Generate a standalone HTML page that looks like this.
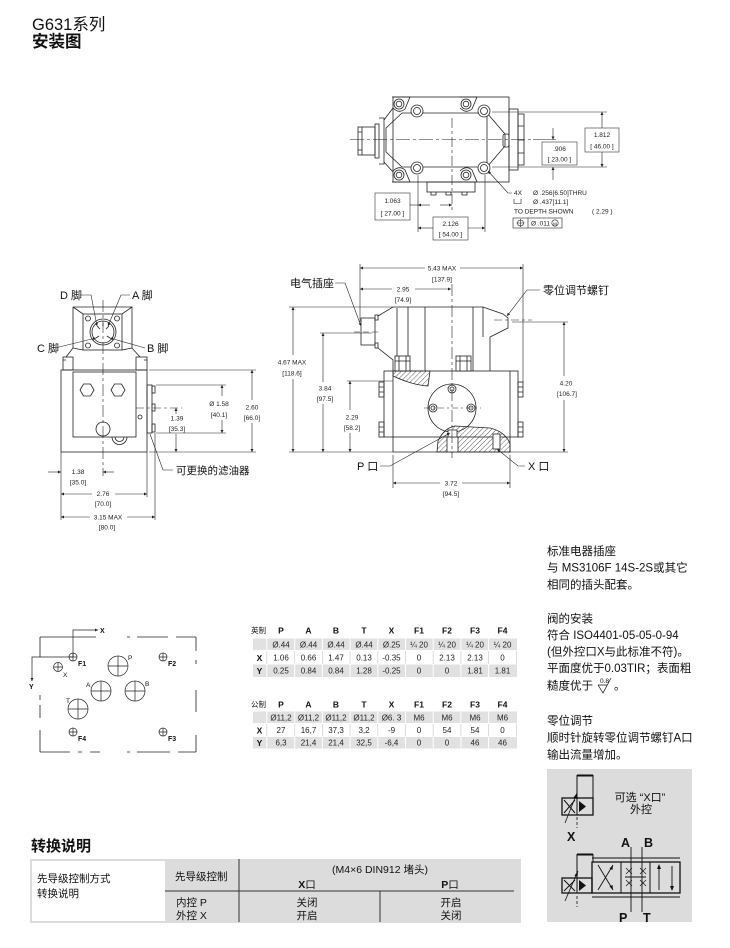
<!DOCTYPE html>
<html><head><meta charset="utf-8">
<style>html,body{margin:0;padding:0;background:#fff;}svg{display:block}</style>
</head><body>
<svg width="730" height="948" viewBox="0 0 730 948" xmlns="http://www.w3.org/2000/svg" font-family="'Liberation Sans','Noto Sans CJK SC',sans-serif">
<defs>
<marker id="ar" viewBox="0 0 10 10" refX="10" refY="5" markerUnits="userSpaceOnUse" markerWidth="6" markerHeight="3" orient="auto-start-reverse"><path d="M0,0 L10,5 L0,10z" fill="#222"/></marker>
<pattern id="h" width="3.5" height="3.5" patternUnits="userSpaceOnUse" patternTransform="rotate(45)"><line x1="0" y1="0" x2="0" y2="3.5" stroke="#333" stroke-width="0.8"/></pattern>
</defs>

<!-- Header -->
<text x="32" y="30" font-size="16.5" fill="#111">G631系列</text>
<text x="32" y="47" font-size="16.5" font-weight="bold" fill="#111">安装图</text>

<!-- ============ TOP VIEW ============ -->
<g stroke="#222" stroke-width="0.8" fill="none">
 <rect x="393" y="97" width="116" height="85"/>
 <rect x="509" y="109" width="9" height="61"/>
 <rect x="518" y="114" width="6" height="51"/>
 <path d="M518,126 H524 M518,140 H524 M518,153 H524"/>
 <rect x="358" y="127" width="17" height="28"/>
 <path d="M362,127 V155 M358,132 H362 M358,150 H362"/>
 <rect x="375" y="124" width="4" height="34"/>
 <path d="M379,118 H384 V164 H379 M384,120 L393,108 M384,162 L393,172"/>
 <path d="M402,113 H487 L505,134 V146 L487,167 H402 L386,152 V128 Z"/>
 <path d="M487,113 V167"/>
 <rect x="503" y="134" width="6" height="13" rx="2"/>
 <path d="M392,97 L410,97 L405,109 Q399,114 393,108 M459,97 L477,97 L472,109 Q466,114 460,108"/>
 <path d="M392,182 L410,182 L405,170 Q399,165 393,171 M459,182 L477,182 L472,170 Q466,165 460,171"/>
 <circle cx="399" cy="104" r="5"/><circle cx="399" cy="104" r="2.8"/>
 <circle cx="466" cy="104" r="5"/><circle cx="466" cy="104" r="2.8"/>
 <circle cx="399" cy="175" r="5"/><circle cx="399" cy="175" r="2.8"/>
 <circle cx="466" cy="175" r="5"/><circle cx="466" cy="175" r="2.8"/>
 <circle cx="417" cy="111" r="6" fill="#fff"/><circle cx="417" cy="111" r="3.5"/>
 <circle cx="484" cy="111" r="6" fill="#fff"/><circle cx="484" cy="111" r="3.5"/>
 <circle cx="417" cy="168" r="6" fill="#fff"/><circle cx="417" cy="168" r="3.5"/>
 <circle cx="484" cy="168" r="6" fill="#fff"/><circle cx="484" cy="168" r="3.5"/>
 <rect x="427" y="182" width="48" height="10"/>
 <path d="M431,192 v3 h5 v-3 M446,192 v3 h5 v-3 M462,192 v3 h5 v-3"/>
</g>
<g stroke="#222" stroke-width="0.6" fill="none">
 <path d="M350,139.5 H533" stroke-dasharray="14 3 3 3"/>
 <path d="M452,118 V212" stroke-dasharray="10 3 3 3"/>
 <!-- right dims -->
 <path d="M492,112 H607 M492,167 H607"/>
 <path d="M602,128 V112" marker-end="url(#ar)"/>
 <path d="M602,152 V167" marker-end="url(#ar)"/>
 <path d="M553,128 V139.5" marker-end="url(#ar)"/>
 <path d="M553,180 V167" marker-end="url(#ar)"/>
 <path d="M533,139.5 H556"/>
 <rect x="585" y="128" width="34" height="24" stroke="#333"/>
 <rect x="542" y="142" width="35" height="23" stroke="#333"/>
 <!-- bottom dims -->
 <path d="M418,175 V232 M485,175 V232"/>
 <path d="M410,205 H418"/>
 <path d="M430,205 H418" marker-end="url(#ar)"/>
 <path d="M440,205 H452" marker-end="url(#ar)"/>
 <path d="M433,228 H418" marker-end="url(#ar)"/>
 <path d="M468,228 H485" marker-end="url(#ar)"/>
 <rect x="375" y="193" width="35" height="27" stroke="#333"/>
 <rect x="433" y="217" width="35" height="23" stroke="#333"/>
 <path d="M512,193 H508 L488,171" marker-end="url(#ar)"/>
 <path d="M514,199 V203.5 H521 V199"/>
 <rect x="513" y="218" width="49" height="10"/>
 <path d="M528,218 V228"/>
 <circle cx="520.5" cy="223" r="3"/><path d="M516.5,223 H524.5 M520.5,219 V227"/>
 <circle cx="555" cy="223" r="3.2"/>
</g>
<g font-size="6.5" fill="#222" text-anchor="middle">
 <text x="602" y="137">1.812</text><text x="602" y="148.5">[  46.00  ]</text>
 <text x="559.5" y="151">.906</text><text x="559.5" y="161.5">[  23.00  ]</text>
 <text x="392.5" y="203">1.063</text><text x="392.5" y="215.5">[  27.00  ]</text>
 <text x="450.5" y="226">2.126</text><text x="450.5" y="236.5">[  54.00  ]</text>
</g>
<g font-size="6.5" fill="#222">
 <text x="514" y="195">4X</text>
 <text x="533" y="195">Ø .256[6.50]THRU</text>
 <text x="533" y="204">Ø .437[11.1]</text>
 <text x="514" y="213.5">TO DEPTH SHOWN</text>
 <text x="592" y="213.5">(    2.29    )</text>
 <text x="531" y="225.5">Ø .011</text>
 <text x="555" y="225.3" font-size="4.5" text-anchor="middle">M</text>
</g>

<!-- ============ LEFT VIEW ============ -->
<g stroke="#222" stroke-width="0.8" fill="none">
 <rect x="61" y="370" width="86" height="82"/>
 <rect x="63" y="357" width="10" height="13"/>
 <rect x="136" y="357" width="11" height="13"/>
 <path d="M63,360 h3 M144,360 h3"/>
 <path d="M73,307 H132 V348 L140,357 M73,307 V348 L66,357"/>
 <rect x="83" y="314" width="39" height="36"/>
 <path d="M73,307 L83,314 M132,307 L122,314 M73,348 L83,350 M132,348 L122,350"/>
 <circle cx="103" cy="332" r="13"/><circle cx="103" cy="332" r="11"/>
 <path d="M97,326 l3,3 M109,326 l-3,3 M96,338 l3,-2 M110,338 l-3,-2 M103,323 v3"/>
 <circle cx="88" cy="318.5" r="2.5"/><circle cx="117" cy="318.5" r="2.5"/>
 <circle cx="88" cy="345.5" r="2.5"/><circle cx="117" cy="345.5" r="2.5"/>
 <rect x="73" y="372" width="63" height="65"/>
 <polygon points="80,390 83.5,384 90.5,384 94,390 90.5,396 83.5,396"/>
 <polygon points="111,390 114.5,384 121.5,384 125,390 121.5,396 114.5,396"/>
 <circle cx="103" cy="429" r="7" fill="#fff"/>
 <path d="M112,437 A6,6 0 0 0 127,437"/>
 <path d="M115,437 A4,4 0 0 0 124,437"/>
 <circle cx="140" cy="417" r="2"/>
 <rect x="147" y="385" width="5" height="48"/>
 <rect x="152" y="386" width="3" height="7"/>
 <rect x="152" y="404" width="3" height="7"/>
 <rect x="152" y="424" width="3" height="8"/>
</g>
<g stroke="#222" stroke-width="0.6" fill="none">
 <path d="M103,300 V476" stroke-dasharray="12 3 3 3"/>
 <path d="M136,408 H182" stroke-dasharray="8 3 3 3"/>
 <path d="M149,370 H256 M149,452 H256 M156,385 H226 M156,433 H226"/>
 <path d="M252,400 V370" marker-end="url(#ar)"/><path d="M252,423 V452" marker-end="url(#ar)"/>
 <path d="M222,396 V385" marker-end="url(#ar)"/><path d="M222,420 V433" marker-end="url(#ar)"/>
 <path d="M176,414 V408" marker-end="url(#ar)"/><path d="M176,434 V452" marker-end="url(#ar)"/>
 <path d="M61,452 V520 M147,452 V497 M155,433 V520"/>
 <path d="M48,472 H61" marker-end="url(#ar)"/><path d="M114,472 H103" marker-end="url(#ar)"/>
 <path d="M92,494 H61" marker-end="url(#ar)"/><path d="M115,494 H147" marker-end="url(#ar)"/>
 <path d="M90,517 H61" marker-end="url(#ar)"/><path d="M127,517 H155" marker-end="url(#ar)"/>
 <path d="M80,295 H91 L97,326" marker-end="url(#ar)"/>
 <path d="M130,295 H121 L108,326" marker-end="url(#ar)"/>
 <path d="M55,348 L96,338" marker-end="url(#ar)"/>
 <path d="M145,348 L110,338" marker-end="url(#ar)"/>
 <path d="M150,434 L163,470 H173"/>
</g>
<g font-size="6.5" fill="#222" text-anchor="middle">
 <text x="252" y="409.5">2.60</text><text x="252" y="420">[66.0]</text>
 <text x="219" y="406">Ø 1.58</text><text x="219" y="417">[40.1]</text>
 <text x="177" y="420.5">1.39</text><text x="177" y="431">[35.3]</text>
 <text x="78" y="474">1.38</text><text x="78" y="484.5">[35.0]</text>
 <text x="103" y="496">2.76</text><text x="103" y="506">[70.0]</text>
 <text x="108" y="519.5">3.15 MAX</text><text x="107" y="529.5">[80.0]</text>
</g>
<g font-size="11" fill="#111">
 <text x="60" y="299">D 脚</text>
 <text x="132" y="299">A 脚</text>
 <text x="37" y="352">C 脚</text>
 <text x="147" y="352">B 脚</text>
 <text x="176" y="474" font-size="10.5">可更换的滤油器</text>
</g>

<!-- ============ MIDDLE VIEW ============ -->
<g stroke="#222" stroke-width="0.8" fill="none">
 <rect x="384" y="371" width="134" height="66"/>
 <path d="M393,371 V452 H510 V371"/>
 <rect x="379" y="382" width="5" height="15"/><rect x="379" y="422" width="5" height="15"/>
 <rect x="518" y="382" width="5" height="15"/><rect x="518" y="422" width="5" height="15"/>
 <path d="M379,387 h5 M379,392 h5 M379,427 h5 M379,432 h5 M518,387 h5 M518,392 h5 M518,427 h5 M518,432 h5"/>
 <rect x="361" y="318" width="14" height="27"/>
 <rect x="375" y="315" width="3" height="5"/><rect x="375" y="343" width="3" height="5"/>
 <path d="M378,316 L393,307 H483 L503,314 L508,318 V328 L490,337 V371"/>
 <path d="M378,348 L393,360 V371"/>
 <path d="M397,308 V360 M408,307 V356 M425,307 V371 M473,307 V371 M483,307 V337"/>
 <rect x="395" y="356" width="15" height="15" fill="#fff"/>
 <rect x="456" y="356" width="15" height="15" fill="#fff"/>
 <path d="M399,356 V371 M406,356 V371 M395,361 H410 M460,356 V371 M467,356 V371 M456,361 H471"/>
 <path d="M393,371 H430 L428,386 Q412,385 393,376 Z" fill="url(#h)"/>
 <circle cx="452" cy="408" r="24"/>
 <circle cx="452" cy="389" r="4"/><circle cx="452" cy="389" r="2"/>
 <circle cx="433" cy="408" r="4"/><circle cx="433" cy="408" r="2"/>
 <circle cx="471" cy="408" r="4"/><circle cx="471" cy="408" r="2"/>
 <path d="M437,452 L438,441 Q444,428 455,426 L490,428 Q506,432 510,444 V452 Z" fill="url(#h)"/>
 <rect x="447" y="437" width="11" height="15" fill="#fff"/>
 <rect x="448" y="430" width="9" height="7" fill="#fff"/>
 <rect x="493" y="434" width="7" height="15" fill="#fff"/>
</g>
<g stroke="#222" stroke-width="0.6" fill="none">
 <path d="M452,284 V458" stroke-dasharray="12 3 3 3"/>
 <path d="M424,408 H481" stroke-dasharray="6 3 2 3"/>
 <path d="M354,332 H380" stroke-dasharray="6 3"/>
 <path d="M494,320 H532" stroke-dasharray="8 3 3 3"/>
 <path d="M360,264 V322 M523,264 V383"/>
 <path d="M425,268 H360" marker-end="url(#ar)"/><path d="M460,268 H523" marker-end="url(#ar)"/>
 <path d="M392,289 H360" marker-end="url(#ar)"/><path d="M415,289 H451" marker-end="url(#ar)"/>
 <path d="M289,307 H393 M289,452 H393"/>
 <path d="M293,355 V307" marker-end="url(#ar)"/><path d="M293,379 V452" marker-end="url(#ar)"/>
 <path d="M320,333 H372"/>
 <path d="M323,382 V333" marker-end="url(#ar)"/><path d="M323,404 V452" marker-end="url(#ar)"/>
 <path d="M347,381 H393"/>
 <path d="M350,410 V381" marker-end="url(#ar)"/><path d="M350,433 V452" marker-end="url(#ar)"/>
 <path d="M512,322 H568 M510,452 H568"/>
 <path d="M564,376 V322" marker-end="url(#ar)"/><path d="M564,400 V452" marker-end="url(#ar)"/>
 <path d="M393,455 V488 M510,455 V488"/>
 <path d="M440,483 H393" marker-end="url(#ar)"/><path d="M462,483 H510" marker-end="url(#ar)"/>
 <path d="M335,283 H345 L361,326" marker-end="url(#ar)"/>
 <path d="M540,290 H527 L507,316" marker-end="url(#ar)"/>
 <path d="M380,466 H390 L450,433" marker-end="url(#ar)"/>
 <path d="M525,466 H518 L497,449" marker-end="url(#ar)"/>
</g>
<g font-size="6.5" fill="#222" text-anchor="middle">
 <text x="442" y="270.5">5.43 MAX</text><text x="442" y="281.5">[137.9]</text>
 <text x="403" y="291.5">2.95</text><text x="403" y="302">[74.9]</text>
 <text x="292" y="364.5">4.67 MAX</text><text x="292" y="375.5">[118.6]</text>
 <text x="325" y="390.5">3.84</text><text x="325" y="401">[97.5]</text>
 <text x="352" y="419.5">2.29</text><text x="352" y="430">[58.2]</text>
 <text x="566" y="385.5">4.20</text><text x="567" y="396">[106.7]</text>
 <text x="451" y="485.5">3.72</text><text x="451" y="496">[94.5]</text>
</g>
<g font-size="11" fill="#111">
 <text x="290" y="287">电气插座</text>
 <text x="543" y="294">零位调节螺钉</text>
 <text x="357" y="470">P 口</text>
 <text x="528" y="470">X 口</text>
</g>

<!-- ============ RIGHT TEXT ============ -->
<g font-size="11.5" fill="#111">
 <text x="547" y="555">标准电器插座</text>
 <text x="547" y="571.5">与 MS3106F 14S-2S或其它</text>
 <text x="547" y="588.5">相同的插头配套。</text>
 <text x="547" y="622.5">阀的安装</text>
 <text x="547" y="639">符合 ISO4401-05-05-0-94</text>
 <text x="547" y="655.5">(但外控口X与此标准不符)。</text>
 <text x="547" y="672">平面度优于0.03TIR；表面粗</text>
 <text x="547" y="689.5">糙度优于</text>
 <text x="614" y="689.5">。</text>
 <text x="547" y="724.5">零位调节</text>
 <text x="547" y="741.5">顺时针旋转零位调节螺钉A口</text>
 <text x="547" y="758.5">输出流量增加。</text>
</g>
<text x="600" y="683" font-size="6.5" fill="#111">0.8</text>
<path d="M598,685 H607 M598,685 L603,693 L611,678" stroke="#111" stroke-width="0.7" fill="none"/>

<!-- ============ PATTERN ============ -->
<g stroke="#222" stroke-width="0.8" fill="none">
 <path d="M40,637 H96 M127,637 H130 M137,637 H168 M176,637 H196"/>
 <path d="M196,637 V651 M196,660 V664 M196,690 V712 M196,735 V752"/>
 <path d="M40,752 H70 M78,752 H82 M90,752 H100 M127,752 H130 M137,752 H170 M178,752 H196"/>
 <path d="M40,637 V657 M40,695 V700 M40,705 V718 M40,730 V752"/>
</g>
<g stroke="#222" stroke-width="0.7" fill="none">
 <path d="M73,657 V630 H98" marker-end="url(#ar)"/>
 <path d="M73,657 H32 V681" marker-end="url(#ar)"/>
 <circle cx="73" cy="657" r="4"/><path d="M69,657 H77 M73,653 V661"/>
 <circle cx="58" cy="667" r="4.5"/><path d="M53.5,667 H62.5 M58,662.5 V671.5"/>
 <circle cx="118" cy="666" r="10"/><path d="M108,666 H128 M118,656 V676"/>
 <circle cx="163" cy="657" r="4"/><path d="M159,657 H167 M163,653 V661"/>
 <circle cx="101" cy="691" r="10"/><path d="M91,691 H111 M101,681 V701"/>
 <circle cx="135" cy="691" r="10"/><path d="M125,691 H145 M135,681 V701"/>
 <circle cx="78" cy="709" r="10"/><path d="M68,709 H88 M78,699 V719"/>
 <circle cx="73" cy="732" r="4"/><path d="M69,732 H77 M73,728 V736"/>
 <circle cx="163" cy="732" r="4"/><path d="M159,732 H167 M163,728 V736"/>
</g>
<g font-size="7" fill="#111" font-weight="bold">
 <text x="100" y="633">X</text>
 <text x="29" y="689">Y</text>
 <text x="78" y="666">F1</text>
 <text x="168" y="666">F2</text>
 <text x="78" y="741">F4</text>
 <text x="168" y="741">F3</text>
</g>
<g font-size="6.5" fill="#111">
 <text x="63" y="677">X</text>
 <text x="128" y="660">P</text>
 <text x="86" y="687">A</text>
 <text x="145" y="686">B</text>
 <text x="66" y="703">T</text>
</g>

<!-- ============ TABLE 1 ============ -->
<g fill="#e1e1e1">
 <rect x="253" y="638.5" width="264" height="11.5"/>
 <rect x="253" y="664.5" width="264" height="12.5"/>
 <rect x="253" y="711.5" width="264" height="11.5"/>
 <rect x="253" y="737" width="264" height="11.5"/>
</g>
<g stroke="#fff" stroke-width="1">
 <path d="M266.8,638 V678 M294.7,638 V678 M322.4,638 V678 M350.1,638 V678 M377.8,638 V678 M405.5,638 V678 M433.2,638 V678 M460.9,638 V678 M488.6,638 V678"/>
 <path d="M266.8,711 V749 M294.7,711 V749 M322.4,711 V749 M350.1,711 V749 M377.8,711 V749 M405.5,711 V749 M433.2,711 V749 M460.9,711 V749 M488.6,711 V749"/>
</g>
<g stroke="#d6d6d6" stroke-width="0.8">
 <path d="M266.8,651 V664 M294.7,651 V664 M322.4,651 V664 M350.1,651 V664 M377.8,651 V664 M405.5,651 V664 M433.2,651 V664 M460.9,651 V664 M488.6,651 V664 M516.5,651 V664"/>
 <path d="M266.8,724 V736.5 M294.7,724 V736.5 M322.4,724 V736.5 M350.1,724 V736.5 M377.8,724 V736.5 M405.5,724 V736.5 M433.2,724 V736.5 M460.9,724 V736.5 M488.6,724 V736.5 M516.5,724 V736.5"/>
</g>
<g font-size="8.5" font-weight="bold" fill="#111" text-anchor="middle">
 <text x="281" y="633.5">P</text><text x="308.5" y="633.5">A</text><text x="336" y="633.5">B</text><text x="364" y="633.5">T</text><text x="391.5" y="633.5">X</text><text x="419" y="633.5">F1</text><text x="447" y="633.5">F2</text><text x="475" y="633.5">F3</text><text x="502.5" y="633.5">F4</text>
 <text x="259.5" y="661">X</text><text x="259.5" y="674">Y</text>
 <text x="281" y="707.5">P</text><text x="308.5" y="707.5">A</text><text x="336" y="707.5">B</text><text x="364" y="707.5">T</text><text x="391.5" y="707.5">X</text><text x="419" y="707.5">F1</text><text x="447" y="707.5">F2</text><text x="475" y="707.5">F3</text><text x="502.5" y="707.5">F4</text>
 <text x="259.5" y="733.5">X</text><text x="259.5" y="746">Y</text>
</g>
<g font-size="7.5" fill="#111">
 <text x="251" y="633">英制</text>
 <text x="251" y="707">公制</text>
</g>
<g font-size="8" fill="#222" text-anchor="middle">
 <text x="281" y="647.5">Ø.44</text><text x="308.5" y="647.5">Ø.44</text><text x="336" y="647.5">Ø.44</text><text x="364" y="647.5">Ø.44</text><text x="391.5" y="647.5">Ø.25</text><text x="419" y="647.5">¼ 20</text><text x="447" y="647.5">¼ 20</text><text x="475" y="647.5">¼ 20</text><text x="502.5" y="647.5">¼ 20</text>
 <text x="281" y="660.5">1.06</text><text x="308.5" y="660.5">0.66</text><text x="336" y="660.5">1.47</text><text x="364" y="660.5">0.13</text><text x="391.5" y="660.5">-0.35</text><text x="419" y="660.5">0</text><text x="447" y="660.5">2.13</text><text x="475" y="660.5">2.13</text><text x="502.5" y="660.5">0</text>
 <text x="281" y="673.5">0.25</text><text x="308.5" y="673.5">0.84</text><text x="336" y="673.5">0.84</text><text x="364" y="673.5">1.28</text><text x="391.5" y="673.5">-0.25</text><text x="419" y="673.5">0</text><text x="447" y="673.5">0</text><text x="475" y="673.5">1.81</text><text x="502.5" y="673.5">1.81</text>
 <text x="281" y="720.5">Ø11,2</text><text x="308.5" y="720.5">Ø11,2</text><text x="336" y="720.5">Ø11,2</text><text x="364" y="720.5">Ø11,2</text><text x="391.5" y="720.5">Ø6. 3</text><text x="419" y="720.5">M6</text><text x="447" y="720.5">M6</text><text x="475" y="720.5">M6</text><text x="502.5" y="720.5">M6</text>
 <text x="281" y="733">27</text><text x="308.5" y="733">16,7</text><text x="336" y="733">37,3</text><text x="364" y="733">3,2</text><text x="391.5" y="733">-9</text><text x="419" y="733">0</text><text x="447" y="733">54</text><text x="475" y="733">54</text><text x="502.5" y="733">0</text>
 <text x="281" y="745.5">6,3</text><text x="308.5" y="745.5">21,4</text><text x="336" y="745.5">21,4</text><text x="364" y="745.5">32,5</text><text x="391.5" y="745.5">-6,4</text><text x="419" y="745.5">0</text><text x="447" y="745.5">0</text><text x="475" y="745.5">46</text><text x="502.5" y="745.5">46</text>
</g>

<!-- ============ HYDRAULIC SYMBOL ============ -->
<rect x="547" y="769" width="145" height="153" fill="#dcdcdc"/>
<g stroke="#111" stroke-width="1" fill="none">
 <rect x="562" y="798" width="31" height="17" stroke-width="1.3"/>
 <path d="M577,798 V815"/>
 <path d="M577,775 V798 M593,775 V798"/>
 <path d="M577,775.5 H593" stroke-width="2"/>
 <path d="M564,800 L575,813 M575,800 L564,813"/>
 <path d="M565,823 L577,793" stroke-width="0.8"/>
 <path d="M577,817 V828" stroke-dasharray="3 2" stroke-width="0.8"/>
 <rect x="562" y="878" width="30" height="15" stroke-width="1.3"/>
 <path d="M577,878 V893"/>
 <path d="M577,854 V878 M593,854 V862"/>
 <path d="M577,854.5 H593" stroke-width="2"/>
 <path d="M564,880 L575,891 M575,880 L564,891"/>
 <path d="M565,901 L578,871" stroke-width="0.8"/>
 <path d="M577,896 V907" stroke-dasharray="3 2" stroke-width="0.8"/>
 <path d="M592,858 H680 M592,897 H680" stroke-width="1"/>
 <rect x="592" y="862" width="88" height="31" stroke-width="1.3"/>
 <path d="M621,862 V893 M650,862 V893"/>
 <path d="M598,865 L613,890 M613,865 L598,890" stroke-width="0.9"/>
 <path d="M625,877 H646" stroke-width="0.9"/>
 <path d="M659,890 V866 M672,866 V889" stroke-width="0.9"/>
 <path d="M631,847 V912 M642,847 V912" stroke-width="0.9"/>
 <path d="M626,868 l3,3 l3,-3 M626,874 l3,-3 l3,3 M640,868 l3,3 l3,-3 M640,874 l3,-3 l3,3" stroke-width="0.7"/>
 <path d="M626,880 l3,3 l3,-3 M626,886 l3,-3 l3,3 M640,880 l3,3 l3,-3 M640,886 l3,-3 l3,3" stroke-width="0.7"/>
</g>
<g fill="#111">
 <polygon points="579,801 586,806.5 579,812"/>
 <polygon points="579,880 586,885.5 579,891"/>
 <polygon points="577,793 576.5,799 573.5,797.5"/>
 <polygon points="578,871 577.5,877 574.5,875.5"/>
 <polygon points="659,864 657,869 661,869"/>
 <polygon points="672,891 670,886 674,886"/>
 <polygon points="613,890 609.5,886.5 612.5,885"/>
 <polygon points="613,865 612.5,870 609.5,868.5"/>
</g>
<g font-size="12.5" font-weight="bold" fill="#111">
 <text x="567" y="841">X</text>
 <text x="621" y="847">A</text>
 <text x="644" y="847">B</text>
 <text x="619" y="922">P</text>
 <text x="643" y="922">T</text>
</g>
<g font-size="11" fill="#111" text-anchor="middle">
 <text x="640" y="801">可选 “X口”</text>
 <text x="641" y="813">外控</text>
</g>

<!-- ============ BOTTOM TABLE ============ -->
<text x="31" y="851" font-size="15" font-weight="bold" fill="#111">转换说明</text>
<rect x="30" y="859" width="491" height="64" fill="#dcdcdc"/>
<rect x="32" y="861" width="133" height="60" fill="#fff"/>
<g stroke="#333" stroke-width="1" fill="none">
 <path d="M239,859 V922"/>
 <path d="M165,891 H514"/>
 <path d="M380,891 V922"/>
</g>
<g font-size="10.5" fill="#111">
 <text x="37" y="882">先导级控制方式</text>
 <text x="37" y="897">转换说明</text>
 <text x="175" y="880">先导级控制</text>
 <text x="176" y="906">内控 P</text>
 <text x="176" y="919">外控 X</text>
</g>
<g font-size="10.5" fill="#111" text-anchor="middle">
 <text x="380" y="873">(M4×6 DIN912  堵头)</text>
 <text x="307" y="888"><tspan font-weight="bold">X</tspan>口</text>
 <text x="450" y="888"><tspan font-weight="bold">P</tspan>口</text>
 <text x="307" y="906">关闭</text>
 <text x="307" y="919">开启</text>
 <text x="451" y="906">开启</text>
 <text x="451" y="919">关闭</text>
</g>
</svg>
</body></html>
